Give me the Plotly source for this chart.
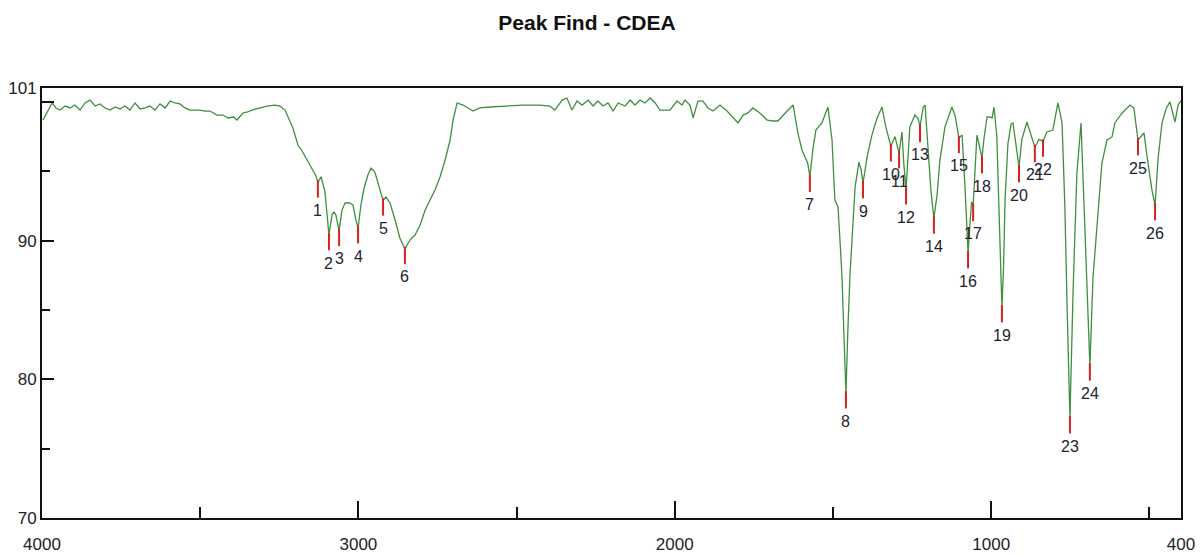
import plotly.graph_objects as go

# IR transmittance spectrum (wavenumber in cm-1, %T)
wavenumber = [
    3997, 3984, 3968, 3956, 3943, 3927, 3911, 3896, 3880, 3864, 3848, 3832, 3817, 3801,
    3785, 3769, 3753, 3738, 3722, 3706, 3690, 3674, 3659, 3643, 3627, 3611, 3595, 3580,
    3564, 3548, 3532, 3516, 3501, 3485, 3469, 3447, 3428, 3412, 3395, 3384, 3365, 3350,
    3336, 3311, 3289, 3264, 3248, 3232, 3222, 3207, 3191, 3178, 3162, 3147, 3134, 3128,
    3118, 3106, 3099, 3093, 3083, 3077, 3071, 3061, 3052, 3042, 3027, 3017, 3008, 3001,
    2992, 2982, 2970, 2960, 2948, 2935, 2922, 2913, 2900, 2884, 2869, 2853, 2837, 2821,
    2805, 2789, 2774, 2758, 2742, 2726, 2710, 2701, 2688, 2669, 2638, 2616, 2584, 2530,
    2480, 2426, 2395, 2379, 2356, 2341, 2325, 2309, 2293, 2274, 2258, 2243, 2227, 2211,
    2195, 2179, 2157, 2141, 2126, 2110, 2094, 2078, 2062, 2047, 2015, 1993, 1977, 1968,
    1952, 1942, 1927, 1911, 1895, 1879, 1857, 1835, 1816, 1800, 1784, 1769, 1753, 1731,
    1708, 1690, 1674, 1658, 1642, 1626, 1611, 1598, 1588, 1580, 1573, 1563, 1554, 1535,
    1516, 1503, 1494, 1484, 1472, 1465, 1459, 1453, 1446, 1430, 1418, 1411, 1405, 1392,
    1377, 1361, 1345, 1333, 1317, 1304, 1291, 1282, 1276, 1269, 1263, 1257, 1241, 1231,
    1225, 1215, 1209, 1200, 1190, 1181, 1171, 1162, 1146, 1124, 1114, 1102, 1092, 1083,
    1073, 1067, 1062, 1057, 1051, 1045, 1039, 1029, 1023, 1013, 1003, 997, 991, 982,
    975, 970, 966, 961, 956, 947, 937, 931, 922, 912, 903, 887, 874, 862,
    855, 849, 836, 824, 805, 789, 776, 767, 760, 751, 741, 729, 716, 710,
    697, 688, 678, 665, 650, 634, 618, 609, 586, 561, 549, 536, 526, 517,
    507, 492, 482, 472, 460, 447, 435, 419, 409, 400,
]
transmittance = [
    98.69, 99.27, 99.92, 99.56, 99.41, 99.70, 99.56, 99.77, 99.41, 99.92, 100.13, 99.70, 99.85, 99.56,
    99.41, 99.63, 99.49, 99.70, 99.41, 99.92, 99.49, 99.56, 99.70, 99.41, 99.85, 99.56, 100.06, 99.92,
    99.85, 99.56, 99.41, 99.41, 99.41, 99.34, 99.34, 99.05, 99.05, 98.84, 98.91, 98.69, 99.20, 99.27,
    99.41, 99.56, 99.70, 99.77, 99.70, 99.41, 98.84, 98.12, 96.89, 96.46, 95.81, 95.23, 94.66, 94.20,
    94.60, 93.57, 92.00, 90.40, 91.90, 92.06, 91.84, 90.70, 92.20, 92.71, 92.71, 92.56, 91.48, 90.90,
    92.56, 93.79, 94.73, 95.23, 94.94, 93.86, 92.90, 93.14, 92.71, 91.48, 90.19, 89.40, 90.04, 90.40,
    91.12, 92.20, 92.92, 93.65, 94.58, 95.81, 97.25, 98.69, 99.92, 99.77, 99.34, 99.56, 99.63, 99.70,
    99.77, 99.77, 99.70, 99.41, 100.13, 100.28, 99.41, 100.06, 99.77, 100.13, 99.70, 100.06, 99.70, 99.92,
    99.34, 99.92, 99.70, 100.13, 99.77, 100.13, 99.92, 100.28, 99.92, 99.41, 99.41, 100.06, 99.77, 100.13,
    99.77, 98.84, 100.06, 100.06, 99.56, 99.34, 99.77, 99.34, 98.84, 98.48, 99.05, 99.20, 99.56, 99.20,
    98.69, 98.62, 98.62, 99.05, 99.41, 99.77, 97.76, 96.53, 96.03, 95.60, 94.60, 96.67, 97.97, 98.48,
    99.63, 97.25, 92.92, 92.42, 87.66, 83.50, 79.00, 83.50, 87.66, 93.86, 95.66, 95.09, 94.15, 96.03,
    97.60, 98.80, 99.63, 98.20, 96.80, 97.50, 96.30, 97.83, 95.50, 93.70, 95.60, 98.19, 99.05, 98.80,
    98.20, 99.60, 99.77, 97.00, 93.50, 91.60, 93.30, 95.80, 98.20, 99.63, 99.00, 97.40, 97.61, 94.00,
    89.10, 91.20, 92.80, 92.50, 95.00, 97.61, 97.00, 95.95, 97.30, 98.91, 98.90, 98.84, 99.63, 97.50,
    92.00, 87.50, 85.20, 88.00, 93.00, 97.00, 98.40, 98.48, 96.90, 95.30, 97.30, 98.55, 97.60, 96.75,
    97.00, 97.30, 97.15, 97.83, 97.97, 99.92, 98.48, 92.42, 85.20, 77.20, 86.44, 94.87, 98.48, 94.87,
    86.44, 81.00, 87.37, 91.27, 95.59, 97.25, 97.47, 98.48, 99.20, 99.77, 99.56, 97.25, 97.50, 97.76,
    96.03, 93.65, 92.56, 96.03, 98.48, 99.50, 100.00, 98.55, 99.77, 100.10,
]

# Picked peaks
peak_no = list(range(1, 27))
peak_wn = [3128, 3093, 3061, 3001, 2922, 2853, 1573, 1459, 1405, 1317, 1291, 1269, 1225,
           1181, 1102, 1073, 1057, 1029, 966, 912, 862, 836, 751, 688, 536, 482]
peak_t = [94.20, 90.40, 90.70, 90.90, 92.90, 89.40, 94.60, 79.00, 94.15, 96.80, 96.30, 93.70, 98.20,
          91.60, 97.40, 89.10, 92.50, 95.95, 85.20, 95.30, 96.75, 97.15, 77.20, 81.00, 97.25, 92.56]

# Axis ticks
x_tickvals = [4000, 3000, 2000, 1000, 400]
x_ticktext = ["4000", "3000", "2000", "1000", "400"]
x_minor = [3500, 2500, 1500, 500]
y_tickvals = [70, 80, 90, 100, 101]
y_ticktext = ["70", "80", "90", "", "101"]
y_minor = [75, 85, 95]

FONT = "Liberation Sans, Arial, sans-serif"

fig = go.Figure()

fig.add_trace(go.Scatter(
    x=wavenumber, y=transmittance, mode="lines",
    line=dict(color="#3f8f3f", width=1.3),
    hoverinfo="skip", showlegend=False,
))

# red peak markers: short vertical strokes hanging below each minimum
mx, my = [], []
for w, t in zip(peak_wn, peak_t):
    mx += [w, w, None]
    my += [t + 0.15, t - 1.1, None]
fig.add_trace(go.Scatter(
    x=mx, y=my, mode="lines",
    line=dict(color="#d82020", width=2),
    hoverinfo="skip", showlegend=False,
))

for n, w, t in zip(peak_no, peak_wn, peak_t):
    fig.add_annotation(
        x=w, y=t, text=str(n), showarrow=False,
        yshift=-28, xanchor="center", yanchor="middle",
        font=dict(family=FONT, size=16, color="#22232e"),
    )

fig.update_layout(
    width=1201, height=554,
    margin=dict(l=42, r=20, t=88, b=36),
    paper_bgcolor="white", plot_bgcolor="white",
    title=dict(
        text="<b>Peak Find - CDEA</b>", x=587 / 1201, xanchor="center",
        y=1 - 23 / 554, yanchor="middle", yref="container",
        font=dict(family=FONT, size=21, color="#111111"),
    ),
    xaxis=dict(
        range=[4000, 400], autorange=False,
        showgrid=False, zeroline=False,
        showline=True, linecolor="#111111", linewidth=2, mirror=True,
        ticks="inside", ticklen=17, tickwidth=2, tickcolor="#111111",
        tickvals=x_tickvals, ticktext=x_ticktext, ticklabelstandoff=10,
        tickfont=dict(family=FONT, size=17, color="#222222"),
        minor=dict(tickvals=x_minor, ticks="inside", ticklen=11, tickwidth=2, tickcolor="#111111"),
        automargin=False,
    ),
    yaxis=dict(
        range=[70, 101], autorange=False,
        showgrid=False, zeroline=False,
        showline=True, linecolor="#111111", linewidth=2, mirror=True,
        ticks="inside", ticklen=12, tickwidth=2, tickcolor="#111111",
        tickvals=y_tickvals, ticktext=y_ticktext,
        tickfont=dict(family=FONT, size=17, color="#222222"),
        minor=dict(tickvals=y_minor, ticks="inside", ticklen=8, tickwidth=2, tickcolor="#111111"),
        automargin=False,
    ),
)

fig.write_html("out.html")
